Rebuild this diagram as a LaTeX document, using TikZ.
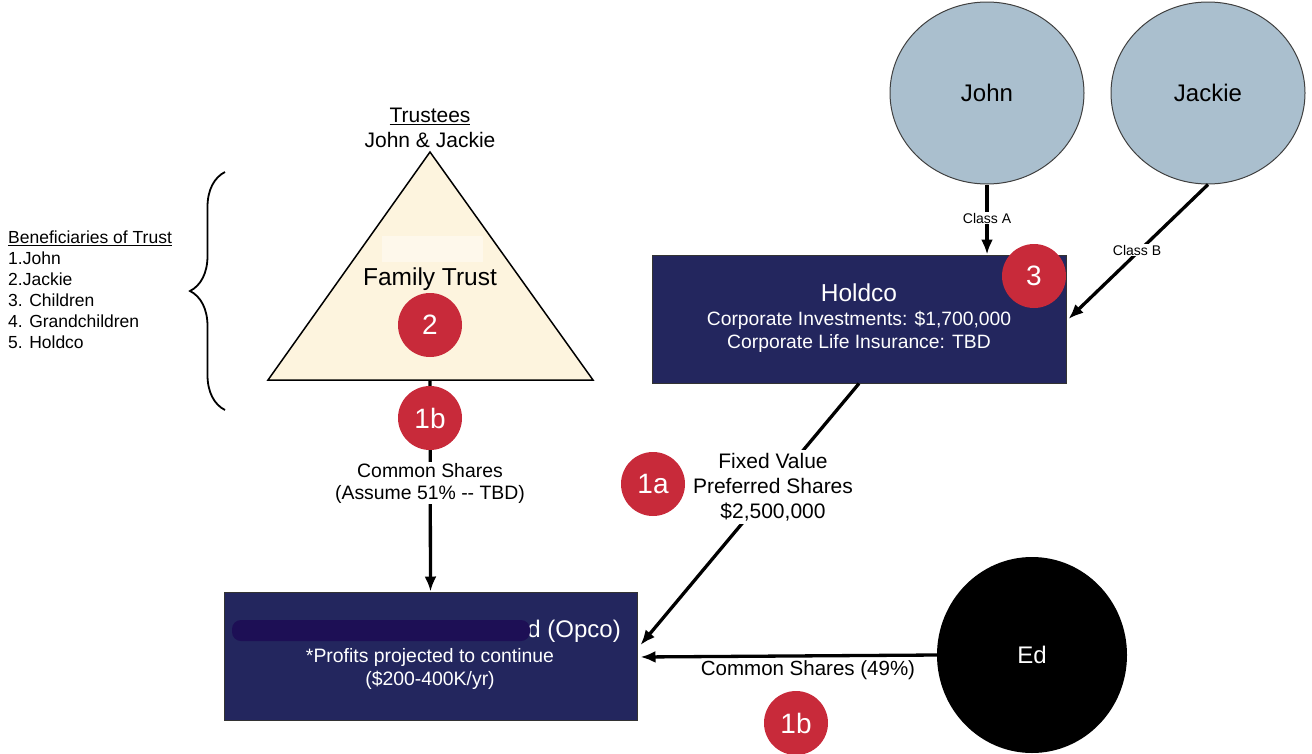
\documentclass[tikz,border=0pt]{standalone}
\usepackage{fontspec}
\setmainfont{Liberation Sans}
\usetikzlibrary{shapes.geometric,arrows.meta,decorations.pathreplacing,calc}
\definecolor{navy}{HTML}{23265E}
\definecolor{badgered}{HTML}{C82A3A}
\definecolor{cream}{HTML}{FDF4DE}
\definecolor{bluegrey}{HTML}{AABFCE}
\definecolor{redact}{HTML}{1D0F55}
\newcommand{\fs}[2]{\fontsize{#1}{#2}\selectfont}
\begin{document}
\begin{tikzpicture}[x=1pt,y=-1pt,
  arr/.style={line width=3.3pt,-{Latex[length=15pt,width=12pt]}},
  badge/.style={circle,fill=badgered,text=white,minimum size=64pt,inner sep=0pt,font=\fs{28}{32}},
  box/.style={rectangle,fill=navy,draw=black!80,line width=1pt,text=white,align=center,inner sep=0pt},
  person/.style={ellipse,fill=bluegrey,draw=black!75,line width=1pt,inner sep=0pt,font=\fs{24}{28}},
  lbl/.style={align=center,inner sep=1pt},
]
\useasboundingbox (0,0) rectangle (1312,753);
% beneficiaries
\node[anchor=north west,align=left,inner sep=0pt,font=\fs{17.5}{21}] (benef) at (8,231)
  {\underline{Beneficiaries of Trust}\\1.John\\2.Jackie\\3. Children\\4. Grandchildren\\5. Holdco};
\coordinate (bb) at (225,410);
\coordinate (bt) at (225,172);
\draw[line width=1.8pt,decorate,decoration={brace,amplitude=35pt}] (bb) -- (bt);
% trustees
\node[lbl,font=\fs{21}{25}] (trustees) at (430,128) {\underline{Trustees}\\John \& Jackie};
% triangle
\coordinate (tapex) at (430,152);
\coordinate (tbl) at (268,380);
\coordinate (tbr) at (593,380);
\coordinate (trib) at (430,380);
\draw[fill=cream,line width=1.5pt,line join=miter] (tapex) -- (tbr) -- (tbl) -- cycle;
\fill[fill=white!40!cream] (382,236) rectangle (483,262);
\node[font=\fs{24.5}{28},inner sep=0pt] (trust) at (430,279) {Family Trust};
% boxes
\node[box,minimum width=414pt,minimum height=128pt] (holdco) at (859,319) {};
\node[font=\fs{24.5}{28},text=white] (holdcot) at (859,293) {Holdco};
\node[font=\fs{19.3}{23},text=white,align=center] (holdcod) at (859,332) {Corporate Investments: \$1,700,000\\Corporate Life Insurance: TBD};
\node[box,minimum width=413pt,minimum height=128pt] (opco) at (430.5,656) {};
\node[font=\fs{24}{28},text=white,anchor=east,inner sep=0pt] (opcot) at (621,631) {d (Opco)};
\fill[redact,rounded corners=9pt] (232,620) rectangle (530,641);
\node[font=\fs{19.4}{23},text=white,align=center] (opcod) at (430,669) {*Profits projected to continue\\(\$200-400K/yr)};
% people
\node[person,minimum width=194pt,minimum height=182pt] (john) at (987,93) {John};
\node[person,minimum width=194pt,minimum height=182pt] (jackie) at (1208,93) {Jackie};
\node[ellipse,fill=black,minimum width=190pt,minimum height=196pt,inner sep=0pt,text=white,font=\fs{24}{28}] (ed) at (1032,655) {Ed};
% connectors
\draw[arr] (trib) -- (opco.north);
\draw[arr] (john.south) -- (john.south |- holdco.north);
\draw[arr] (jackie.south) -- ($(holdco.east)+(2,0)$);
\draw[arr] (holdco.south) -- ($(opco.east)+(3,-11)$);
\draw[arr] (ed.west) -- ($(opco.east)+(3,1)$);
% labels
\node[lbl,fill=white,font=\fs{14}{17}] (classA) at (987,218) {Class A};
\node[lbl,fill=white,font=\fs{14}{17}] (classB) at (1137,250) {Class B};
\node[lbl,fill=white,font=\fs{19.4}{22}] (cs51) at (430,483) {Common Shares\\(Assume 51\% -{}- TBD)};
\node[lbl,fill=white,font=\fs{21}{25},inner sep=3pt] (fixed) at (773,487) {Fixed Value\\Preferred Shares\\\$2,500,000};
\node[lbl,font=\fs{20.5}{24},anchor=north] (cs49) at (808,659) {Common Shares (49\%)};
% badges
\node[badge] (b2) at (430,325) {2};
\node[badge] (b1bt) at (430,418) {1b};
\node[badge] (b3) at (1034,276) {3};
\node[badge] (b1a) at (653,484) {1a};
\node[badge] (b1be) at (796,723) {1b};
\end{tikzpicture}
\end{document}
